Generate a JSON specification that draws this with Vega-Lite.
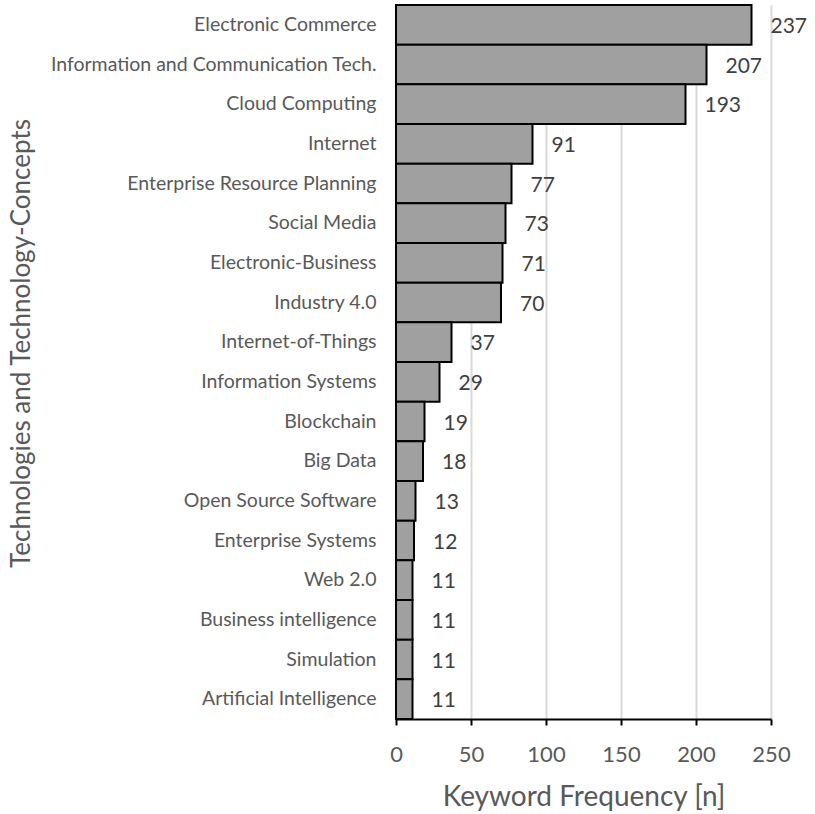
{
  "$schema": "https://vega.github.io/schema/vega-lite/v6.json",
  "autosize": {"type": "none"},
  "width": 375,
  "height": 714,
  "padding": {"left": 396, "top": 5, "right": 44, "bottom": 95},
  "background": "white",
  "config": {
    "font": "Lato",
    "view": {"stroke": null}
  },
  "data": {
    "values": [
      {"concept": "Electronic Commerce", "n": 237},
      {"concept": "Information and Communication Tech.", "n": 207},
      {"concept": "Cloud Computing", "n": 193},
      {"concept": "Internet", "n": 91},
      {"concept": "Enterprise Resource Planning", "n": 77},
      {"concept": "Social Media", "n": 73},
      {"concept": "Electronic-Business", "n": 71},
      {"concept": "Industry 4.0", "n": 70},
      {"concept": "Internet-of-Things", "n": 37},
      {"concept": "Information Systems", "n": 29},
      {"concept": "Blockchain", "n": 19},
      {"concept": "Big Data", "n": 18},
      {"concept": "Open Source Software", "n": 13},
      {"concept": "Enterprise Systems", "n": 12},
      {"concept": "Web 2.0", "n": 11},
      {"concept": "Business intelligence", "n": 11},
      {"concept": "Simulation", "n": 11},
      {"concept": "Artificial Intelligence", "n": 11}
    ]
  },
  "encoding": {
    "y": {
      "field": "concept",
      "type": "nominal",
      "sort": null,
      "scale": {"paddingInner": 0, "paddingOuter": 0},
      "axis": {
        "title": "Technologies and Technology-Concepts",
        "titleFontSize": 26,
        "titleFontWeight": "normal",
        "titleColor": "#595959",
        "titleAngle": -90,
        "titleX": -388,
        "titleY": 338,
        "titleBaseline": "top",
        "titleAlign": "center",
        "labelFontSize": 19.5,
        "labelColor": "#595959",
        "labelPadding": 20,
        "labelLimit": 400,
        "ticks": false,
        "domainColor": "#000000",
        "domainWidth": 2.5
      }
    },
    "x": {
      "field": "n",
      "type": "quantitative",
      "scale": {"domain": [0, 250], "nice": false},
      "axis": {
        "title": "Keyword Frequency [n]",
        "titleFontSize": 28,
        "titleFontWeight": "normal",
        "titleColor": "#595959",
        "titleY": 86,
        "titleBaseline": "alphabetic",
        "values": [0, 50, 100, 150, 200, 250],
        "labelFontSize": 22,
        "labelColor": "#595959",
        "labelPadding": 19,
        "labelFlush": false,
        "tickColor": "#000000",
        "tickSize": 6,
        "tickWidth": 2,
        "domainColor": "#000000",
        "domainWidth": 2,
        "gridColor": "#d9d9d9",
        "gridWidth": 2
      }
    }
  },
  "layer": [
    {
      "mark": {"type": "bar", "color": "#a0a0a0", "stroke": "#000000", "strokeWidth": 2}
    },
    {
      "mark": {"type": "text", "align": "left", "baseline": "middle", "dx": 19, "dy": 2, "fontSize": 21, "color": "#404040"},
      "encoding": {"text": {"field": "n", "type": "quantitative"}}
    }
  ]
}
